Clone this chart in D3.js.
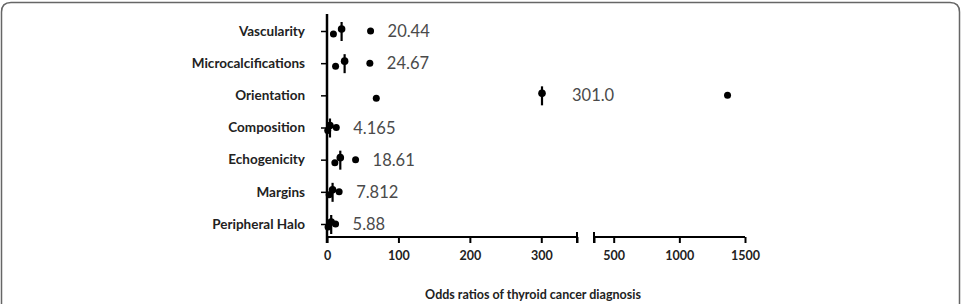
<!DOCTYPE html>
<html lang="en">
<head>
    <meta charset="UTF-8">
    <title>Odds ratios of thyroid cancer diagnosis</title>
    <script src="https://d3js.org/d3.v7.min.js"></script>
    <style>
        body { margin: 0; background: #fff; font-family: Lato, "Open Sans", sans-serif; }
        svg { display: block; }
    </style>
</head>
<body>
    <div id="chart"></div>
    <script>
        // data
        const categories = ["Vascularity", "Microcalcifications", "Orientation", "Composition", "Echogenicity", "Margins", "Peripheral Halo"];
        const oddsRatio = [20.44, 24.67, 301.0, 4.165, 18.61, 7.812, 5.88];
        const lowerCI = [9, 12, 69, 1, 11, 3, 1.5];
        const upperCI = [61, 60, 1367, 13, 40, 17, 12];
        const orLabels = ["20.44", "24.67", "301.0", "4.165", "18.61", "7.812", "5.88"];
        const ticksLow = [0, 100, 200, 300];
        const ticksHigh = [500, 1000, 1500];
        const breakAt = 350;

        const width = 961, height = 304;

        const svg = d3.select("#chart").append("svg")
            .attr("width", width)
            .attr("height", height);

        // frame with rounded top corners
        svg.append("path")
            .attr("d", "M1.5,310 L1.5,12 Q1.5,2.5 11,2.5 L950,2.5 Q959.5,2.5 959.5,12 L959.5,310")
            .attr("fill", "none")
            .attr("stroke", "#666")
            .attr("stroke-width", 1.5);

        // broken x axis: two linear segments
        const xLow = d3.scaleLinear().domain([0, breakAt]).range([327, 577]);
        const xHigh = d3.scaleLinear().domain([breakAt, 1500]).range([594, 745]);
        const x = v => v <= breakAt ? xLow(v) : xHigh(v);

        const y = d3.scalePoint().domain(categories).range([31, 224]);
        const axisY = 237;

        const gLow = svg.append("g").attr("transform", `translate(0,${axisY})`)
            .call(d3.axisBottom(xLow).tickValues(ticksLow.concat([breakAt])).tickSize(6).tickFormat((d) => d === breakAt ? "" : d));
        const gHigh = svg.append("g").attr("transform", `translate(0,${axisY})`)
            .call(d3.axisBottom(xHigh).tickValues([breakAt].concat(ticksHigh)).tickSize(6).tickFormat((d) => d === breakAt ? "" : d));

        [gLow, gHigh].forEach(g => {
            g.select(".domain").attr("d", null);
            g.selectAll(".tick line").attr("stroke", "#000").attr("stroke-width", 2);
            g.selectAll(".tick text")
                .attr("y", 14)
                .style("font-family", "Lato, sans-serif")
                .style("font-weight", "bold")
                .style("font-size", "12.5px")
                .attr("fill", "#222");
        });
        // axis lines drawn from the scales
        svg.append("line").attr("x1", xLow(0)).attr("x2", xLow(breakAt))
            .attr("y1", axisY).attr("y2", axisY).attr("stroke", "#000").attr("stroke-width", 2);
        svg.append("line").attr("x1", xHigh(breakAt)).attr("x2", xHigh(1500))
            .attr("y1", axisY).attr("y2", axisY).attr("stroke", "#000").attr("stroke-width", 2);
        // caps at the break, extend upward too
        [xLow(breakAt), xHigh(breakAt)].forEach(cx => {
            svg.append("line").attr("x1", cx).attr("x2", cx)
                .attr("y1", axisY - 5).attr("y2", axisY + 6)
                .attr("stroke", "#000").attr("stroke-width", 2);
        });

        // y axis
        const gy = svg.append("g").attr("transform", `translate(${xLow(0)},0)`)
            .call(d3.axisLeft(y).tickSize(6).tickPadding(16));
        gy.select(".domain").attr("d", `M0,14V${axisY + 6}`).attr("stroke", "#000").attr("stroke-width", 2.5);
        gy.selectAll(".tick line").attr("stroke", "#000").attr("stroke-width", 1.5);
        gy.selectAll(".tick text")
            .style("font-family", "Lato, sans-serif")
            .style("font-weight", "bold")
            .style("font-size", "13.5px")
            .attr("fill", "#222");

        const rows = categories.map((c, i) => ({
            cat: c, or: oddsRatio[i], lo: lowerCI[i], hi: upperCI[i], label: orLabels[i]
        }));

        const marks = svg.append("g");
        // odds ratio: dot with a short vertical bar
        marks.selectAll(".orbar").data(rows).enter().append("line")
            .attr("x1", d => x(d.or)).attr("x2", d => x(d.or))
            .attr("y1", d => y(d.cat) - 9).attr("y2", d => y(d.cat) + 10)
            .attr("stroke", "#000").attr("stroke-width", 2.2);
        marks.selectAll(".ordot").data(rows).enter().append("circle")
            .attr("cx", d => x(d.or)).attr("cy", d => y(d.cat) - 2)
            .attr("r", 3.8).attr("fill", "#000");
        marks.selectAll(".lodot").data(rows).enter().append("circle")
            .attr("cx", d => x(d.lo)).attr("cy", d => y(d.cat) + 3)
            .attr("r", 3.5).attr("fill", "#000");
        marks.selectAll(".hidot").data(rows).enter().append("circle")
            .attr("cx", d => x(d.hi)).attr("cy", d => y(d.cat))
            .attr("r", 3.5).attr("fill", "#000");

        // value labels
        marks.selectAll(".val").data(rows).enter().append("text")
            .attr("x", d => d.hi > breakAt ? x(d.or) + 30 : x(d.hi) + 17)
            .attr("y", d => y(d.cat) + 6)
            .style("font-family", "Lato, sans-serif")
            .style("font-size", "16.5px")
            .attr("fill", "#4a4a4a")
            .text(d => d.label);

        // axis title
        svg.append("text")
            .attr("x", 533).attr("y", 299)
            .attr("text-anchor", "middle")
            .style("font-family", "Lato, sans-serif")
            .style("font-weight", "bold")
            .style("font-size", "12.5px")
            .attr("fill", "#222")
            .text("Odds ratios of thyroid cancer diagnosis");
    </script>
</body>
</html>
